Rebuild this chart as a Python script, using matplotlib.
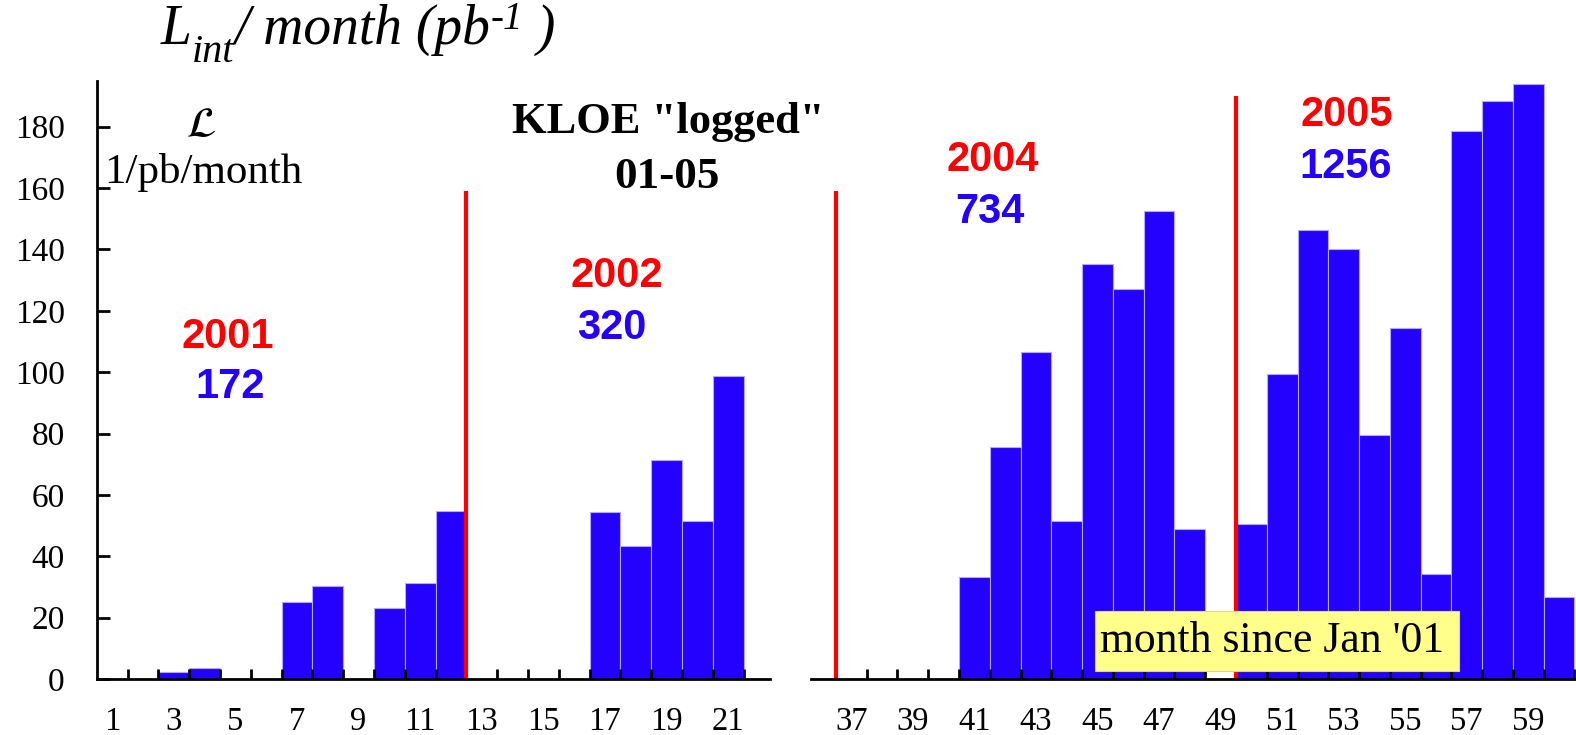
import matplotlib
matplotlib.use('Agg')
import matplotlib.pyplot as plt
from matplotlib.patches import Rectangle

# months since Jan '01 and integrated luminosity per month (pb^-1)
left_months = [3, 4, 7, 8, 10, 11, 12, 17, 18, 19, 20, 21]
left_lumi = [2.3, 3.5, 25.0, 30.4, 23.0, 31.2, 54.7, 54.4, 43.4, 71.4, 51.4, 98.8]

right_months = [41, 42, 43, 44, 45, 46, 47, 48, 50, 51, 52, 53, 54, 55, 56, 57, 58, 59, 60]
right_lumi = [33.3, 75.5, 106.7, 51.4, 135.3, 127.0, 152.5, 48.8, 50.5, 99.3,
              146.3, 140.0, 79.6, 114.3, 34.1, 178.6, 188.4, 193.9, 26.8]

left_ticks = [1, 3, 5, 7, 9, 11, 13, 15, 17, 19, 21]
right_ticks = [37, 39, 41, 43, 45, 47, 49, 51, 53, 55, 57, 59]
y_ticks = [0, 20, 40, 60, 80, 100, 120, 140, 160, 180]

# year separators (month edge, line top)
left_sep = [12.5]
left_sep_top = [159]
right_sep = [36.5, 49.5]
right_sep_top = [159, 190]

# year labels: (year, total pb^-1)
years = ['2001', '2002', '2004', '2005']
totals = ['172', '320', '734', '1256']

BLUE = '#2400ff'
RED = '#ff0000'
SERIF = 'Liberation Serif'
SANS = 'Liberation Sans'

W, H = 1576, 735
fig = plt.figure(figsize=(W / 100, H / 100), dpi=100)


def fx(px):
    return px / W


def fy(py):
    return 1 - py / H


y0, y1 = 679, 80.7
ax1 = fig.add_axes([fx(96.7), fy(y0), (770 - 96.7) / W, (y0 - y1) / H])
ax2 = fig.add_axes([fx(811), fy(y0), (1576 - 811) / W, (y0 - y1) / H])

for ax, months, vals, ticks, xlim, seps, tops in [
        (ax1, left_months, left_lumi, left_ticks, (0.5, 22.36), left_sep, left_sep_top),
        (ax2, right_months, right_lumi, right_ticks, (35.69, 60.55), right_sep, right_sep_top)]:
    ax.bar(months, vals, width=1.0, color=BLUE, edgecolor='#b4a8ff', linewidth=0.8, zorder=1)
    ax.vlines(seps, 0, tops, color=RED, linewidth=3, zorder=3)
    ax.set_xlim(*xlim)
    ax.set_ylim(0, 195)
    ax.set_xticks(ticks)
    ax.set_xticklabels([str(t) for t in ticks], fontfamily=SERIF, fontsize=23.5)
    # bin edges as small inward ticks
    ax.set_xticks([e + 0.5 for e in range(int(xlim[0]), int(xlim[1]) + 1)
                   if xlim[0] < e + 0.5 < xlim[1]], minor=True)
    ax.tick_params(axis='x', which='major', length=0, pad=19.5)
    ax.tick_params(axis='x', which='minor', direction='in', length=7.5, width=2, color='black')
    for s in ['top', 'right']:
        ax.spines[s].set_visible(False)
    ax.spines['bottom'].set_linewidth(2)
    ax.spines['bottom'].set_zorder(4)

ax1.set_yticks(y_ticks)
ax1.set_yticklabels([str(t) for t in y_ticks], fontfamily=SERIF, fontsize=24)
ax1.tick_params(axis='y', direction='in', length=9.5, width=2, pad=23)
ax1.spines['left'].set_linewidth(2)

ax2.spines['left'].set_visible(False)
ax2.set_yticks([])

# title built from pieces: (text, size, vertical offset in px)
renderer = fig.canvas.get_renderer()
title_pieces = [('L', 40, 0), ('int', 29, 18), ('/ month (pb', 40, 0), ('-1', 28, -15), (' )', 40, 0)]
x = 161
for txt, size, dy in title_pieces:
    t = fig.text(fx(x), fy(44 + dy), txt, fontfamily=SERIF, fontstyle='italic',
                 fontsize=size, ha='left', va='baseline')
    x += t.get_window_extent(renderer).width

fig.text(fx(201), fy(125), r'$\mathcal{L}$', math_fontfamily='stix',
         fontsize=31, ha='center', va='center')
fig.text(fx(203), fy(172), '1/pb/month', fontfamily=SERIF, fontsize=31,
         ha='center', va='center')
fig.text(fx(668), fy(122), 'KLOE "logged"', fontfamily=SERIF, fontweight='bold',
         fontsize=32, ha='center', va='center')
fig.text(fx(667), fy(177), '01-05', fontfamily=SERIF, fontweight='bold',
         fontsize=32.5, ha='center', va='center')

year_pos = [(228, 337), (617, 276), (993, 160), (1347, 115)]
total_pos = [(230, 387), (612, 328), (990, 212), (1346, 167)]
for yr, tot, (xa, ya), (xb, yb) in zip(years, totals, year_pos, total_pos):
    fig.text(fx(xa), fy(ya), yr, color=RED, fontfamily=SANS, fontweight='bold',
             fontsize=30, ha='center', va='center')
    fig.text(fx(xb), fy(yb), tot, color=BLUE, fontfamily=SANS, fontweight='bold',
             fontsize=30, ha='center', va='center')

box = Rectangle((fx(1095), fy(670.7)), (1459.3 - 1095) / W, (670.7 - 610.7) / H,
                transform=fig.transFigure, facecolor='#ffff8a', edgecolor='#d8d8a0',
                linewidth=0.8, zorder=10)
fig.add_artist(box)
fig.text(fx(1272), fy(641), "month since Jan '01", fontfamily=SERIF, fontsize=31.5,
         ha='center', va='center', zorder=11)

fig.savefig('out.png', dpi=100)
